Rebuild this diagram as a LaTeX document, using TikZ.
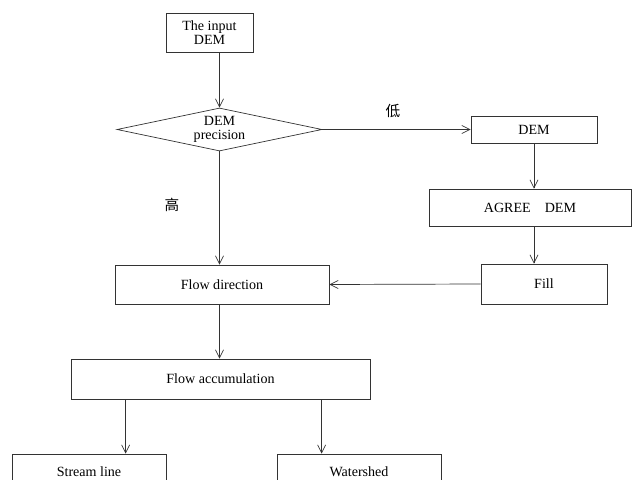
\documentclass[tikz,border=0pt]{standalone}
\usepackage{fontspec}
\setmainfont{Liberation Serif}
\newfontfamily\cjk{Noto Sans CJK SC}
\usetikzlibrary{arrows.meta,shapes.geometric}
\begin{document}
\begin{tikzpicture}[x=0.03cm,y=-0.03cm,
  font=\fontsize{12}{12}\selectfont,
  line width=0.6pt,
  box/.style={draw=black!80,rectangle,inner sep=0pt,align=center},
  arr/.style={draw=black!80,-{Straight Barb[length=2.4mm,width=2.4mm]}},
  lab/.style={font=\cjk\fontsize{12.5}{12.5}\selectfont}]
\useasboundingbox (0,0) rectangle (632,480);
\clip (0,0) rectangle (632,480);
\node[box,minimum width=2.61cm,minimum height=1.17cm] (input) at (209.5,32.5) {The input\\DEM};
\node[draw=black!80,diamond,minimum width=6.15cm,minimum height=1.29cm,inner sep=0pt] (dia) at (219.5,129.5) {};
\node[align=center] (diatext) at (219.5,129.5) {DEM\\precision};
\node[box,minimum width=3.78cm,minimum height=0.81cm] (dem) at (534,129.5) {DEM};
\node[box,minimum width=6.06cm,minimum height=1.11cm] (agree) at (530,207.5) {AGREE\hspace{1em}DEM};
\node[box,minimum width=3.78cm,minimum height=1.2cm] (fill) at (544,284) {Fill};
\node[box,minimum width=6.42cm,minimum height=1.17cm] (fdir) at (222,284.5) {Flow direction};
\node[box,minimum width=8.97cm,minimum height=1.2cm] (facc) at (220.5,379) {Flow accumulation};
\node[box,minimum width=4.62cm,minimum height=1.08cm] (stream) at (89,472) {Stream line};
\node[box,minimum width=4.92cm,minimum height=1.08cm] (water) at (359,472) {Watershed};
\node[lab] (low) at (393,111) {低};
\node[lab] (high) at (172,205) {高};
\draw[arr] (dia.north |- input.south) -- (dia.north);
\draw[arr] (dia.east) -- (dem.west);
\draw[arr] (dia.south) -- (dia.south |- fdir.north);
\draw[arr] (dem.south) -- (dem.south |- agree.north);
\draw[arr] (dem.south |- agree.south) -- (dem.south |- fill.north);
\draw[arr] (fill.west) -- (fdir.east);
\draw[arr] (fdir.south -| dia.south) -- (dia.south |- facc.north);
\draw[arr] ([xshift=1.65cm]facc.south west) coordinate (a1) -- (a1 |- stream.north);
\draw[arr] ([xshift=7.53cm]facc.south west) coordinate (a2) -- (a2 |- water.north);
\end{tikzpicture}
\end{document}
